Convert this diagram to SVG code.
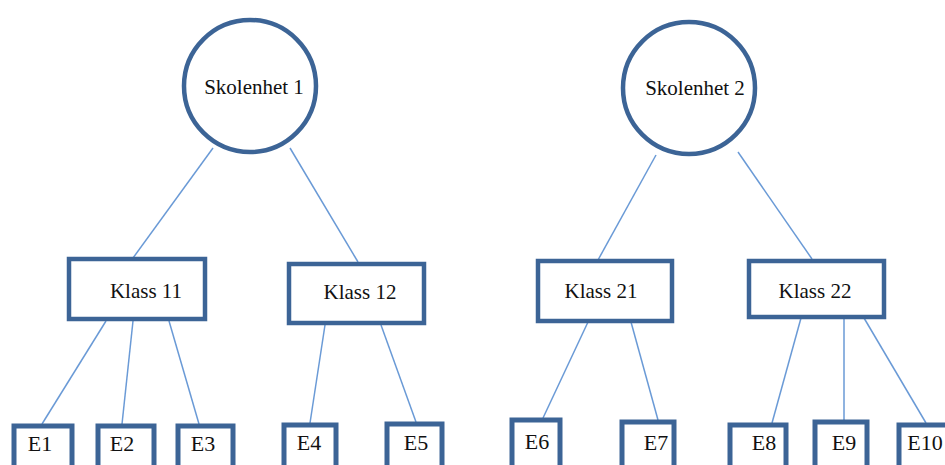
<svg xmlns="http://www.w3.org/2000/svg" width="945" height="465" viewBox="0 0 945 465">
<style>
.n{fill:#fff;stroke:#3c6496;stroke-width:4.5}
.e{fill:#fff;stroke:#3c6496;stroke-width:5}
.c line{stroke:#6a9ad6;stroke-width:1.5}
text{font-family:'Liberation Serif',serif;font-size:21px;fill:#111;text-anchor:middle}
.s{font-size:22px}
</style>
<rect width="945" height="465" fill="#fff"/>
<g class="c" id="connectors">
<line x1="213" y1="148" x2="133" y2="258"/>
<line x1="290" y1="148" x2="358" y2="262"/>
<line x1="656" y1="155" x2="598" y2="260"/>
<line x1="738" y1="152" x2="812" y2="259"/>
<line x1="106" y1="321" x2="42" y2="424"/>
<line x1="133" y1="321" x2="122" y2="424"/>
<line x1="169" y1="321" x2="199" y2="424"/>
<line x1="325" y1="325" x2="310" y2="423"/>
<line x1="381" y1="325" x2="416" y2="422"/>
<line x1="588" y1="322" x2="543" y2="418"/>
<line x1="631" y1="322" x2="658" y2="420"/>
<line x1="801" y1="318" x2="772" y2="423"/>
<line x1="844" y1="318" x2="844" y2="420"/>
<line x1="864" y1="318" x2="926" y2="423"/>
</g>
<g id="skolenhet1"><circle class="n" cx="250" cy="86" r="66"/><text x="254" y="94">Skolenhet 1</text></g>
<g id="skolenhet2"><circle class="n" cx="689" cy="88" r="66"/><text x="695" y="95">Skolenhet 2</text></g>
<g id="klass11"><rect class="n" x="69" y="259" width="136" height="60"/><text x="146" y="298">Klass 11</text></g>
<g id="klass12"><rect class="n" x="289" y="264" width="135" height="59"/><text x="360" y="299">Klass 12</text></g>
<g id="klass21"><rect class="n" x="538" y="261" width="134" height="60"/><text x="601" y="298">Klass 21</text></g>
<g id="klass22"><rect class="n" x="749" y="261" width="135" height="56"/><text x="815" y="298">Klass 22</text></g>
<g id="e1"><rect class="e" x="14" y="426" width="58" height="50"/><text class="s" x="40" y="451">E1</text></g>
<g id="e2"><rect class="e" x="98" y="426" width="56" height="50"/><text class="s" x="122" y="451">E2</text></g>
<g id="e3"><rect class="e" x="178" y="426" width="55" height="50"/><text class="s" x="203" y="451">E3</text></g>
<g id="e4"><rect class="e" x="284" y="425" width="52" height="50"/><text class="s" x="309" y="450">E4</text></g>
<g id="e5"><rect class="e" x="387" y="424" width="55" height="50"/><text class="s" x="416" y="450">E5</text></g>
<g id="e6"><rect class="e" x="512" y="420" width="48" height="50"/><text class="s" x="537" y="449">E6</text></g>
<g id="e7"><rect class="e" x="622" y="422" width="52" height="50"/><text class="s" x="656" y="450">E7</text></g>
<g id="e8"><rect class="e" x="730" y="425" width="56" height="50"/><text class="s" x="764" y="450">E8</text></g>
<g id="e9"><rect class="e" x="815" y="422" width="52" height="50"/><text class="s" x="844" y="450">E9</text></g>
<g id="e10"><rect class="e" x="899" y="425" width="50" height="50"/><text class="s" x="925" y="450">E10</text></g>
</svg>
